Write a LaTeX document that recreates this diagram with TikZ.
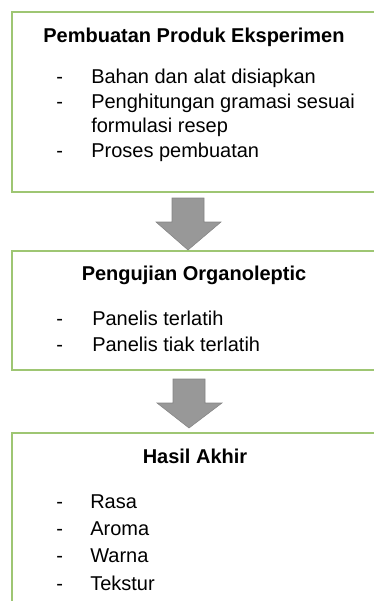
\documentclass[tikz,border=0pt]{standalone}
\usepackage{fontspec}
\setmainfont{Liberation Sans}
\definecolor{boxgreen}{RGB}{158,198,115}
\definecolor{arrowfill}{RGB}{152,152,152}
\definecolor{arrowline}{RGB}{132,132,132}
\begin{document}
\begin{tikzpicture}[x=0.75pt,y=-0.75pt,
  box/.style={draw=boxgreen,line width=1.1pt,fill=white},
  ttl/.style={font=\fontsize{15pt}{18pt}\selectfont\bfseries,anchor=base,inner sep=0pt},
  dashmark/.style={font=\fontsize{15pt}{18pt}\selectfont,anchor=base west,inner sep=0pt},
  item/.style={font=\fontsize{15pt}{18pt}\selectfont,anchor=base west,inner sep=0pt},
  blockarrow/.style={fill=arrowfill,draw=arrowline,line width=0.4pt,line join=miter}]
\useasboundingbox (0,0) rectangle (374,601);
\begin{scope}
\clip (0,0) rectangle (374,601);
% boxes
\draw[box] (12,12) coordinate (b1nw) rectangle (420,192) coordinate (b1se);
\draw[box] (12,251) coordinate (b2nw) rectangle (420,370) coordinate (b2se);
\draw[box] (12,433) coordinate (b3nw) rectangle (420,640) coordinate (b3se);
% block arrows
\coordinate (a1top) at (188,198);
\coordinate (a1tip) at (188,250);
\draw[blockarrow] ([xshift=-16*0.75pt]a1top) -- ([xshift=16*0.75pt]a1top)
  -- (204,222) -- (221,222) -- (a1tip) -- (156,222) -- (172,222) -- cycle;
\coordinate (a2top) at (189,379);
\coordinate (a2tip) at (189,428);
\draw[blockarrow] (173,379) -- (205,379) -- (205,403) -- (222,403) -- (a2tip)
  -- (157,403) -- (173,403) -- cycle;
\end{scope}
% box 1 text
\node[ttl] (t1) at (194,42) {Pembuatan Produk Eksperimen};
\node[dashmark] (d11) at (56,83) {-};
\node[item] (i11) at (91,83) {Bahan dan alat disiapkan};
\node[dashmark] (d12) at (56,108) {-};
\node[item] (i12) at (91,108) {Penghitungan gramasi sesuai};
\node[item] (i13) at (91,132) {formulasi resep};
\node[dashmark] (d14) at (56,157) {-};
\node[item] (i14) at (91,157) {Proses pembuatan};
% box 2 text
\node[ttl] (t2) at (194,280) {Pengujian Organoleptic};
\node[dashmark] (d21) at (56,325) {-};
\node[item] (i21) at (92,325) {Panelis terlatih};
\node[dashmark] (d22) at (56,351) {-};
\node[item] (i22) at (92,351) {Panelis tiak terlatih};
% box 3 text
\node[ttl] (t3) at (195,463) {Hasil Akhir};
\node[dashmark] (d31) at (56,508) {-};
\node[item] (i31) at (90,508) {Rasa};
\node[dashmark] (d32) at (56,535) {-};
\node[item] (i32) at (90,535) {Aroma};
\node[dashmark] (d33) at (56,562) {-};
\node[item] (i33) at (90,562) {Warna};
\node[dashmark] (d34) at (56,590) {-};
\node[item] (i34) at (90,590) {Tekstur};
\end{tikzpicture}
\end{document}
